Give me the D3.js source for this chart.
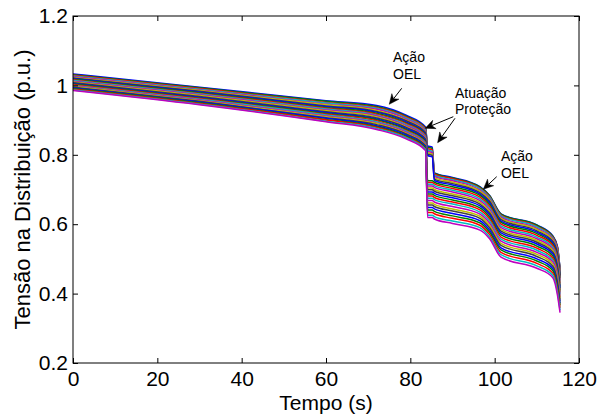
<!DOCTYPE html>
<html>
<head>
<meta charset="utf-8">
<script src="https://cdn.jsdelivr.net/npm/d3@7"></script>
<style>
  body { margin: 0; background: #fff; }
  svg { display: block; }
  text { font-family: "Liberation Sans", Arial, sans-serif; fill: #000; }
</style>
</head>
<body>
<svg id="chart" width="599" height="416"></svg>
<script>
// Sample instants (s)
const tempo = [0, 30, 60, 72, 79, 83.6, 84.1, 85.2, 85.7, 90, 96.5, 98.8, 101.5, 110, 113.8, 114.9, 115.5];

// Distribution-bus voltages (p.u.), one series per bus, top to bottom
const tensoes = [
  [1.033, .995, .956, .942, .914, .880, .826, .822, .748, .735, .708, .683, .630, .598, .566, .535, .470],
  [1.031, .993, .954, .939, .911, .877, .822, .818, .747, .733, .707, .682, .629, .597, .565, .533, .469],
  [1.029, .991, .951, .936, .909, .875, .818, .814, .744, .731, .704, .679, .626, .594, .562, .531, .466],
  [1.027, .989, .949, .934, .906, .872, .814, .810, .741, .728, .702, .677, .624, .592, .560, .528, .464],
  [1.025, .987, .946, .931, .903, .869, .810, .806, .738, .725, .698, .673, .620, .588, .557, .524, .460],
  [1.023, .985, .944, .928, .900, .866, .806, .802, .734, .721, .695, .670, .617, .585, .554, .520, .457],
  [1.021, .983, .941, .925, .898, .864, .802, .798, .730, .717, .691, .666, .613, .581, .550, .516, .453],
  [1.020, .981, .939, .923, .895, .861, .798, .794, .726, .713, .687, .662, .609, .577, .546, .511, .449],
  [1.018, .979, .936, .920, .892, .858, .725, .725, .721, .708, .683, .657, .605, .573, .542, .507, .445],
  [1.016, .977, .934, .917, .890, .856, .720, .720, .716, .703, .678, .652, .600, .568, .538, .502, .440],
  [1.014, .975, .932, .914, .887, .853, .715, .715, .711, .698, .673, .647, .595, .563, .533, .496, .435],
  [1.012, .973, .929, .912, .884, .850, .710, .710, .706, .693, .668, .642, .590, .558, .528, .491, .430],
  [1.010, .971, .927, .909, .881, .847, .704, .704, .700, .687, .663, .637, .585, .553, .524, .485, .425],
  [1.008, .968, .924, .906, .879, .845, .699, .699, .695, .682, .658, .632, .580, .548, .519, .479, .420],
  [1.006, .966, .922, .903, .876, .842, .693, .693, .689, .676, .653, .627, .575, .543, .514, .473, .415],
  [1.004, .964, .919, .901, .873, .839, .687, .687, .683, .670, .647, .621, .569, .537, .508, .467, .409],
  [1.002, .962, .917, .898, .870, .836, .681, .681, .677, .664, .641, .615, .563, .531, .502, .460, .403],
  [1.000, .960, .915, .895, .868, .834, .675, .675, .671, .658, .635, .609, .557, .525, .496, .453, .397],
  [ .998, .958, .912, .892, .865, .831, .668, .668, .664, .651, .629, .603, .551, .519, .491, .447, .391],
  [ .997, .956, .910, .890, .862, .828, .661, .661, .657, .644, .623, .596, .545, .513, .485, .440, .385],
  [ .995, .954, .907, .887, .860, .826, .655, .655, .651, .638, .617, .590, .539, .507, .479, .433, .379],
  [ .993, .952, .905, .884, .857, .823, .648, .648, .644, .631, .610, .583, .532, .500, .472, .425, .372],
  [ .991, .950, .902, .881, .854, .820, .641, .641, .637, .624, .604, .577, .526, .494, .466, .418, .366],
  [ .989, .948, .900, .879, .851, .817, .634, .634, .630, .617, .597, .570, .519, .487, .459, .411, .359],
  [ .987, .946, .897, .876, .849, .815, .626, .626, .622, .609, .590, .563, .512, .480, .452, .403, .352],
  [ .985, .944, .895, .873, .846, .812, .619, .619, .615, .602, .583, .558, .505, .473, .446, .395, .345]
];

// Line colour cycle
const coresLinhas = ["#0000ff", "#008000", "#ff0000", "#00bfbf", "#bf00bf", "#bfbf00", "#404040"];

// Axis ticks and titles
const ticksX = [0, 20, 40, 60, 80, 100, 120];
const ticksY = [0.2, 0.4, 0.6, 0.8, 1, 1.2];
const tituloX = "Tempo (s)";
const tituloY = "Tensão na Distribuição (p.u.)";

// Annotation texts: position of the first baseline and its lines
const textosAnotacao = [
  { t: 75.9, v: 1.0674, linhas: ["Ação", "OEL"] },
  { t: 90.6, v: 0.9637, linhas: ["Atuação", "Proteção"] },
  { t: 101.5, v: 0.7821, linhas: ["Ação", "OEL"] }
];
// Arrows: [start tempo, start tensão, tip tempo, tip tensão]
const setas = [
  [77.95, 0.9916, 75.0, 0.9455],
  [90.19, 0.9098, 83.52, 0.8764],
  [90.59, 0.9052, 86.47, 0.8349],
  [100.48, 0.7369, 97.31, 0.7006]
];

const svg = d3.select("#chart");
const m = { left: 73, right: 579, top: 16, bottom: 363 };

const x = d3.scaleLinear().domain([0, 120]).range([m.left, m.right]);
const y = d3.scaleLinear().domain([0.2, 1.2]).range([m.bottom, m.top]);

// Curves
const linha = d3.line()
  .x((d, i) => x(tempo[i]))
  .y(d => y(d))
  .curve(d3.curveMonotoneX);

svg.append("g")
  .selectAll("path")
  .data(tensoes)
  .join("path")
  .attr("d", linha)
  .attr("fill", "none")
  .attr("stroke", (d, i) => coresLinhas[i % coresLinhas.length])
  .attr("stroke-width", 1.5)
  .attr("stroke-linejoin", "round");

// Axes (inward ticks on all four sides)
const fontTick = 21;
const gx = svg.append("g").attr("transform", `translate(0,${m.bottom})`)
  .call(d3.axisBottom(x).tickValues(ticksX).tickSizeInner(-5).tickSizeOuter(0).tickPadding(8).tickFormat(d3.format("d")));
const gy = svg.append("g").attr("transform", `translate(${m.left},0)`)
  .call(d3.axisLeft(y).tickValues(ticksY).tickSizeInner(-5).tickSizeOuter(0).tickPadding(5).tickFormat(d => String(d)));
const gt = svg.append("g").attr("transform", `translate(0,${m.top})`)
  .call(d3.axisTop(x).tickValues(ticksX).tickSizeInner(-5).tickSizeOuter(0).tickFormat(""));
const gr = svg.append("g").attr("transform", `translate(${m.right},0)`)
  .call(d3.axisRight(y).tickValues(ticksY).tickSizeInner(-5).tickSizeOuter(0).tickFormat(""));

[gx, gy, gt, gr].forEach(g => {
  g.selectAll(".domain").remove();
  g.selectAll("line").attr("stroke", "#000").attr("stroke-width", 1);
  g.selectAll("text").attr("font-size", fontTick).attr("fill", "#000")
    .style("font-family", "'Liberation Sans', Arial, sans-serif");
});

svg.append("rect")
  .attr("x", m.left).attr("y", m.top)
  .attr("width", m.right - m.left).attr("height", m.bottom - m.top)
  .attr("fill", "none").attr("stroke", "#000").attr("stroke-width", 1);

// Axis titles
svg.append("text")
  .attr("x", (m.left + m.right) / 2).attr("y", 410)
  .attr("text-anchor", "middle").attr("font-size", 21)
  .text(tituloX);
svg.append("text")
  .attr("transform", `translate(29.5,${(m.top + m.bottom) / 2}) rotate(-90)`)
  .attr("text-anchor", "middle").attr("font-size", 22)
  .text(tituloY);

// Annotations
const gA = svg.append("g");
textosAnotacao.forEach(a => {
  a.linhas.forEach((s, k) => {
    gA.append("text")
      .attr("x", x(a.t)).attr("y", y(a.v) + k * 16.5)
      .attr("font-size", 14)
      .text(s);
  });
});

const L = 10, W = 9;
setas.forEach(([t0, v0, t1, v1]) => {
  const x0 = x(t0), y0 = y(v0), x1 = x(t1), y1 = y(v1);
  const len = Math.hypot(x1 - x0, y1 - y0);
  const ux = (x1 - x0) / len, uy = (y1 - y0) / len;
  const px = -uy, py = ux;
  const bx = x1 - ux * L, by = y1 - uy * L;
  const nx = x1 - ux * L * 0.7, ny = y1 - uy * L * 0.7;
  gA.append("line")
    .attr("x1", x0).attr("y1", y0).attr("x2", nx).attr("y2", ny)
    .attr("stroke", "#000").attr("stroke-width", 1);
  gA.append("path")
    .attr("d", `M${x1},${y1}L${bx + px * W / 2},${by + py * W / 2}L${nx},${ny}L${bx - px * W / 2},${by - py * W / 2}Z`)
    .attr("fill", "#000").attr("stroke", "#000").attr("stroke-width", 0.5);
});
</script>
</body>
</html>
